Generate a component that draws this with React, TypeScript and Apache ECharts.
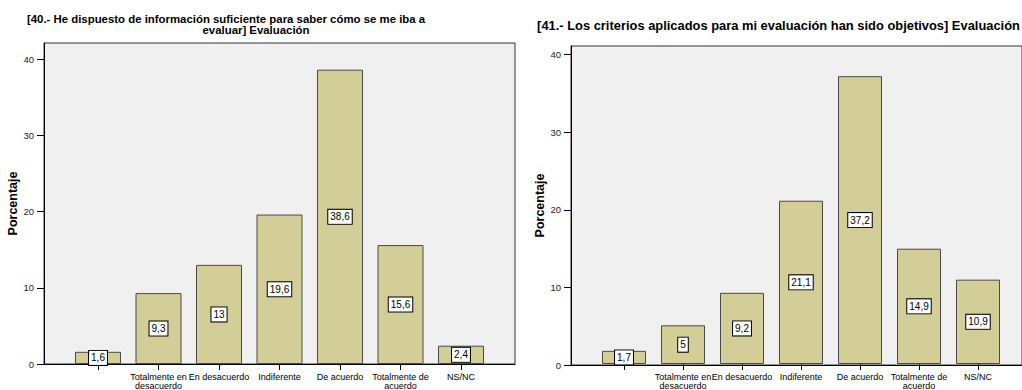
import React, { useEffect, useRef } from "react";
import * as echarts from "echarts";

const categories = [
  "",
  "Totalmente en\ndesacuerdo",
  "En desacuerdo",
  "Indiferente",
  "De acuerdo",
  "Totalmente de\nacuerdo",
  "NS/NC",
];
const values40 = [1.6, 9.3, 13, 19.6, 38.6, 15.6, 2.4];
const values41 = [1.7, 5, 9.2, 21.1, 37.2, 14.9, 10.9];
const yTicks = [0, 10, 20, 30, 40];
const title40a = "[40.- He dispuesto de información suficiente para saber cómo se me iba a";
const title40b = "evaluar] Evaluación";
const title41 = "[41.- Los criterios aplicados para mi evaluación han sido objetivos] Evaluación";
const yName = "Porcentaje";

const FONT = "'Liberation Sans', Arial, sans-serif";
const BAR_COLOR = "#d3ce97";

function frameX(gridIndex: number) {
  return {
    gridIndex,
    type: "value",
    min: 0,
    max: 1,
    axisLine: { show: true, onZero: false, lineStyle: { color: "#000", width: 1 } },
    axisTick: { show: false },
    axisLabel: { show: false },
    splitLine: { show: false },
  };
}

function catX(gridIndex: number) {
  return {
    gridIndex,
    type: "category",
    data: categories,
    axisLine: { show: false },
    axisTick: { show: true, alignWithLabel: true, length: 6, lineStyle: { color: "#000" } },
    axisLabel: {
      interval: 0,
      fontSize: 9,
      lineHeight: 9,
      margin: 8,
      color: "#000",
      fontFamily: FONT,
    },
    splitLine: { show: false },
  };
}

function frameY(gridIndex: number, max: number, nameGap: number) {
  return {
    gridIndex,
    type: "value",
    min: 0,
    max,
    axisLine: { show: true, onZero: false, lineStyle: { color: "#000", width: 1 } },
    axisTick: { show: true, customValues: yTicks, length: 7, lineStyle: { color: "#000" } },
    axisLabel: { customValues: yTicks, fontSize: 9.5, color: "#222", margin: 10, fontFamily: FONT },
    splitLine: { show: false },
    name: yName,
    nameLocation: "middle",
    nameGap,
    nameTextStyle: { fontSize: 12.5, fontWeight: "bold", color: "#000", fontFamily: FONT },
  };
}

function innerY(gridIndex: number, max: number) {
  return { gridIndex, type: "value", min: 0, max, show: false };
}

function barSeries(axisIndex: number, data: number[], barWidth: number) {
  return {
    type: "bar",
    xAxisIndex: axisIndex,
    yAxisIndex: axisIndex,
    data,
    barWidth,
    itemStyle: { color: BAR_COLOR, borderColor: "#4a4a4a", borderWidth: 1 },
    label: {
      show: true,
      position: "inside",
      formatter: (p: any) => String(p.value).replace(".", ","),
      backgroundColor: "#fff",
      borderColor: "#000",
      borderWidth: 1,
      padding: [1, 2, 1, 2],
      fontSize: 10,
      lineHeight: 12,
      color: "#000",
      fontFamily: FONT,
    },
  };
}

export default function App() {
  const ref = useRef<HTMLDivElement>(null);
  useEffect(() => {
    if (!ref.current) return;
    const chart = echarts.init(ref.current, null, { renderer: "svg" });
    chart.setOption({
      animation: false,
      backgroundColor: "#fff",
      grid: [
        { left: 44, top: 43, width: 471, height: 321, show: true, backgroundColor: "#f0f0f0", borderColor: "#333", borderWidth: 1 },
        { left: 67.75, top: 43, width: 423.5, height: 321 },
        { left: 571, top: 46, width: 460, height: 319, show: true, backgroundColor: "#f0f0f0", borderColor: "#333", borderWidth: 1 },
        { left: 594.5, top: 46, width: 413, height: 319 },
      ],
      xAxis: [frameX(0), catX(1), frameX(2), catX(3)],
      yAxis: [frameY(0, 42.1, 19), innerY(1, 42.1), frameY(2, 41.1, 18), innerY(3, 41.1)],
      series: [barSeries(1, values40, 46), barSeries(3, values41, 44)],
      graphic: [
        {
          type: "text",
          x: 226,
          y: 19,
          style: { text: title40a, font: `bold 11.4px ${FONT}`, lineHeight: 11, fill: "#000", textAlign: "center", textVerticalAlign: "middle" },
        },
        {
          type: "text",
          x: 256,
          y: 30,
          style: { text: title40b, font: `bold 11.4px ${FONT}`, lineHeight: 11, fill: "#000", textAlign: "center", textVerticalAlign: "middle" },
        },
        {
          type: "text",
          x: 778.5,
          y: 25.5,
          style: { text: title41, font: `bold 12.9px ${FONT}`, fill: "#000", textAlign: "center", textVerticalAlign: "middle" },
        },
      ],
    });
    return () => chart.dispose();
  }, []);
  return (
    <div
      ref={ref}
      style={{ position: "absolute", left: 0, top: 0, width: 1022, height: 390 }}
    />
  );
}
